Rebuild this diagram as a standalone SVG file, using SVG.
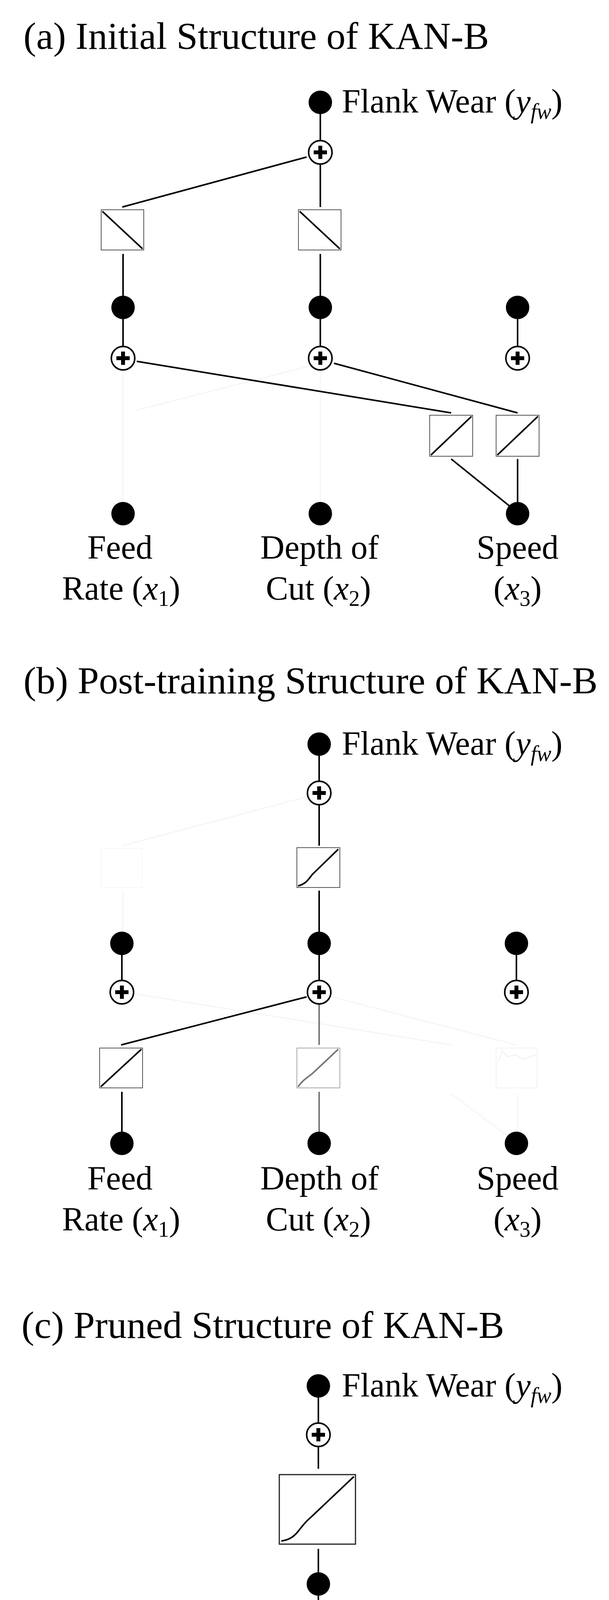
<svg xmlns="http://www.w3.org/2000/svg" width="1559" height="4972" viewBox="0 0 1559 4972">
<style>
text{font-family:"Liberation Serif","Times New Roman",serif;fill:#000}
.t{font-size:98px}
.l{font-size:86px}
.c{stroke:#000;stroke-width:4;fill:none}
.g{stroke:#777;stroke-width:4;fill:none}
.f{stroke:#f5f5f5;stroke-width:3;fill:none}
.box{fill:#fff;stroke:#555;stroke-width:2}
.boxg{fill:#fff;stroke:#aaa;stroke-width:2}
</style>
<defs>
<g id="plus"><circle r="30" fill="#fff" stroke="#000" stroke-width="4"/><path d="M-17 0H17M0-17V17" stroke="#000" stroke-width="10"/></g>
<circle id="dot" r="30" fill="#000"/>
</defs>
<g id="connectors">
<path class="f" d="M315 950V1290M820 950V1290M350 1050L820 930"/>
<path class="c" d="M820 262V390M785 402L313 530M820 420V530M315 650V787M820 650V787M315 787V917M820 787V917M1325 787V917M350 925L1155 1057M855 930L1325 1057M1155 1175L1310 1300M1325 1175V1300"/>
<path class="f" d="M785 2040L313 2165M315 2280V2400M350 2545L1155 2675M1155 2800L1310 2915M1325 2800V2915"/>
<path class="c" d="M817 1905V2030M817 2060V2165M817 2280V2415M312 2415V2540M817 2415V2540M1322 2415V2540M785 2552L310 2675M312 2795V2927"/>
<path class="f" d="M850 2552L1322 2675"/>
<path class="g" d="M817 2570V2675M817 2795V2927"/>
<path class="c" d="M815 3548V3673M815 3703V3760M815 3965V4055M815 4055V4180M780 4187L305 4268M308 4470V4560"/>
<path class="g" d="M815 4210V4270M815 4470V4560"/>
</g>
<text class="t" x="60" y="125">(a) Initial Structure of KAN-B</text>
<g id="a-out"><use href="#dot" x="820" y="262"/><text class="l" x="875" y="288">Flank Wear (<tspan font-style="italic">y</tspan><tspan font-style="italic" font-size="56" dy="16">fw</tspan><tspan dy="-16">)</tspan></text></g>
<g id="a-sum-top"><use href="#plus" x="820" y="390"/></g>
<g id="a-f1"><rect class="box" x="259" y="537" width="109" height="103"/><path class="c" stroke-width="3" d="M262 541L365 637"/></g>
<g id="a-f2"><rect class="box" x="764" y="537" width="109" height="103"/><path class="c" stroke-width="3" d="M767 541L870 637"/></g>
<g id="a-h1"><use href="#dot" x="315" y="787"/></g>
<g id="a-h2"><use href="#dot" x="820" y="787"/></g>
<g id="a-h3"><use href="#dot" x="1325" y="787"/></g>
<g id="a-s1"><use href="#plus" x="315" y="917"/></g>
<g id="a-s2"><use href="#plus" x="820" y="917"/></g>
<g id="a-s3"><use href="#plus" x="1325" y="917"/></g>
<g id="a-f3"><rect class="box" x="1100" y="1063" width="110" height="105"/><path class="c" stroke-width="3" d="M1103 1165L1207 1066"/></g>
<g id="a-f4"><rect class="box" x="1270" y="1063" width="110" height="105"/><path class="c" stroke-width="3" d="M1273 1165L1377 1066"/></g>
<g id="a-x1"><use href="#dot" x="315" y="1315"/><text class="l" x="307" y="1430" text-anchor="middle">Feed</text><text class="l" x="310" y="1535" text-anchor="middle">Rate (<tspan font-style="italic">x</tspan><tspan font-size="56" dy="16">1</tspan><tspan dy="-16">)</tspan></text></g>
<g id="a-x2"><use href="#dot" x="820" y="1315"/><text class="l" x="818" y="1430" text-anchor="middle">Depth of</text><text class="l" x="815" y="1535" text-anchor="middle">Cut (<tspan font-style="italic">x</tspan><tspan font-size="56" dy="16">2</tspan><tspan dy="-16">)</tspan></text></g>
<g id="a-x3"><use href="#dot" x="1325" y="1315"/><text class="l" x="1325" y="1430" text-anchor="middle">Speed</text><text class="l" x="1325" y="1535" text-anchor="middle">(<tspan font-style="italic">x</tspan><tspan font-size="56" dy="16">3</tspan><tspan dy="-16">)</tspan></text></g>
<text class="t" x="60" y="1775">(b) Post-training Structure of KAN-B</text>
<g id="b-out"><use href="#dot" x="817" y="1905"/><text class="l" x="875" y="1932">Flank Wear (<tspan font-style="italic">y</tspan><tspan font-style="italic" font-size="56" dy="16">fw</tspan><tspan dy="-16">)</tspan></text></g>
<g id="b-sum-top"><use href="#plus" x="817" y="2030"/></g>
<g id="b-f0"><rect x="259" y="2172" width="105" height="100" fill="none" stroke="#f7f7f7" stroke-width="2"/></g>
<g id="b-f2"><rect class="box" x="760" y="2170" width="110" height="102"/><path class="c" stroke-width="3" d="M763 2268C785 2262 790 2250 800 2238L866 2174"/></g>
<g id="b-h1"><use href="#dot" x="312" y="2415"/></g>
<g id="b-h2"><use href="#dot" x="817" y="2415"/></g>
<g id="b-h3"><use href="#dot" x="1322" y="2415"/></g>
<g id="b-s1"><use href="#plus" x="312" y="2540"/></g>
<g id="b-s2"><use href="#plus" x="817" y="2540"/></g>
<g id="b-s3"><use href="#plus" x="1322" y="2540"/></g>
<g id="b-f3"><rect class="box" x="255" y="2683" width="110" height="102"/><path class="c" stroke-width="3" d="M258 2782L362 2686"/></g>
<g id="b-f4"><rect class="boxg" x="760" y="2683" width="110" height="102"/><path class="g" stroke-width="3" d="M763 2782C775 2765 785 2760 800 2748L866 2686"/></g>
<g id="b-f5"><rect x="1270" y="2683" width="105" height="102" fill="none" stroke="#f2f2f2" stroke-width="2"/><path d="M1275 2720L1285 2690L1300 2705L1320 2700L1340 2712L1370 2700" fill="none" stroke="#eee" stroke-width="2"/></g>
<g id="b-x1"><use href="#dot" x="312" y="2927"/><text class="l" x="307" y="3045" text-anchor="middle">Feed</text><text class="l" x="310" y="3150" text-anchor="middle">Rate (<tspan font-style="italic">x</tspan><tspan font-size="56" dy="16">1</tspan><tspan dy="-16">)</tspan></text></g>
<g id="b-x2"><use href="#dot" x="817" y="2927"/><text class="l" x="818" y="3045" text-anchor="middle">Depth of</text><text class="l" x="815" y="3150" text-anchor="middle">Cut (<tspan font-style="italic">x</tspan><tspan font-size="56" dy="16">2</tspan><tspan dy="-16">)</tspan></text></g>
<g id="b-x3"><use href="#dot" x="1322" y="2927"/><text class="l" x="1325" y="3045" text-anchor="middle">Speed</text><text class="l" x="1325" y="3150" text-anchor="middle">(<tspan font-style="italic">x</tspan><tspan font-size="56" dy="16">3</tspan><tspan dy="-16">)</tspan></text></g>
<text class="t" x="55" y="3425">(c) Pruned Structure of KAN-B</text>
<g id="c-out"><use href="#dot" x="815" y="3548"/><text class="l" x="875" y="3575">Flank Wear (<tspan font-style="italic">y</tspan><tspan font-style="italic" font-size="56" dy="16">fw</tspan><tspan dy="-16">)</tspan></text></g>
<g id="c-sum-top"><use href="#plus" x="815" y="3673"/></g>
<g id="c-f2"><rect x="715" y="3775" width="195" height="178" fill="#fff" stroke="#222" stroke-width="3"/><path class="c" stroke-width="5" d="M720 3945C740 3942 752 3935 765 3918C775 3905 785 3893 795 3885L906 3780"/></g>
<g id="c-h2"><use href="#dot" x="815" y="4055"/></g>
<g id="c-s2"><use href="#plus" x="815" y="4180"/></g>
<g id="c-f3"><rect x="210" y="4280" width="195" height="180" fill="#fff" stroke="#222" stroke-width="3"/><path class="c" stroke-width="5" d="M215 4453L255 4420L265 4414L400 4286"/></g>
<g id="c-f4"><rect x="715" y="4280" width="195" height="180" fill="#fff" stroke="#999" stroke-width="3"/><path class="g" stroke-width="5" d="M720 4453C735 4432 745 4425 765 4413C780 4400 790 4390 805 4380C830 4362 845 4350 860 4335L905 4288"/></g>
<g id="c-x1"><use href="#dot" x="308" y="4560"/><text class="l" x="302" y="4670" text-anchor="middle">Feed</text><text class="l" x="305" y="4775" text-anchor="middle">Rate (<tspan font-style="italic">x</tspan><tspan font-size="56" dy="16">1</tspan><tspan dy="-16">)</tspan></text></g>
<g id="c-x2"><use href="#dot" x="815" y="4560"/><text class="l" x="815" y="4670" text-anchor="middle">Depth of</text><text class="l" x="812" y="4775" text-anchor="middle">Cut (<tspan font-style="italic">x</tspan><tspan font-size="56" dy="16">2</tspan><tspan dy="-16">)</tspan></text></g>
<g id="c-x3"><use href="#dot" x="1320" y="4560"/><text class="l" x="1323" y="4670" text-anchor="middle">Speed</text><text class="l" x="1323" y="4775" text-anchor="middle">(<tspan font-style="italic">x</tspan><tspan font-size="56" dy="16">3</tspan><tspan dy="-16">)</tspan></text></g>
</svg>
